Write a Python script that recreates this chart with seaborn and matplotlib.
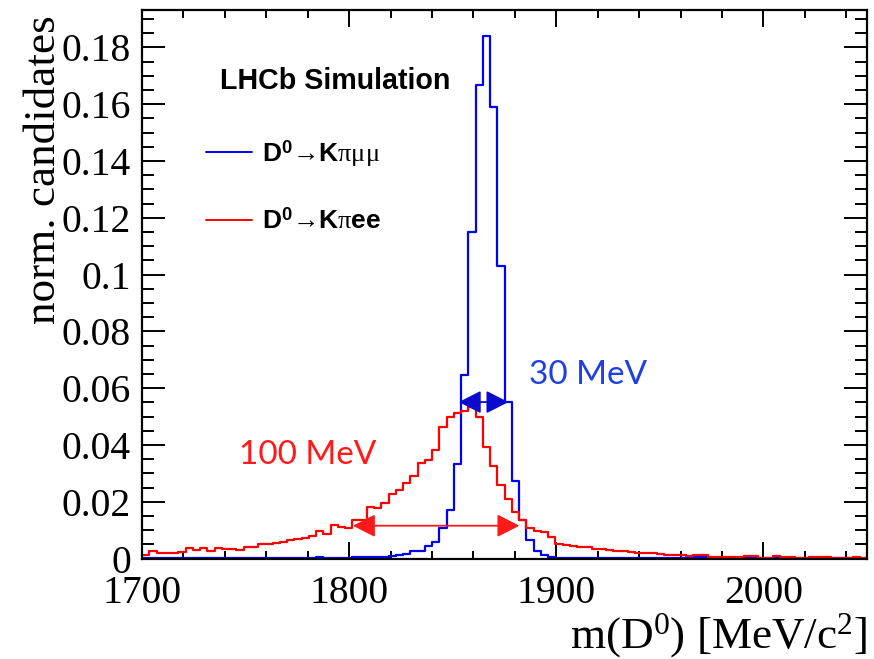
import numpy as np
import pandas as pd
import matplotlib
matplotlib.use("Agg")
import matplotlib.pyplot as plt
from matplotlib.ticker import MultipleLocator, FuncFormatter
import seaborn as sns

# ---------------- data ----------------
bin_lo = 1700.0
bin_hi = 2050.0
n_bins = 100

kpimumu = [
    0.0001, 0.0001, 0.0001, 0.0001, 0.0001, 0.0001, 0.0001, 0.0001, 0.0001, 0.0001,
    0.0001, 0.0001, 0.0001, 0.0001, 0.0001, 0.0001, 0.0001, 0.0001, 0.0001, 0.0001,
    0.0001, 0.0001, 0.0002, 0.0003, 0.0004, 0.0003, 0.0002, 0.0002, 0.0003, 0.0004,
    0.0006, 0.0007, 0.0005, 0.0006, 0.0009, 0.0012, 0.0015, 0.0028, 0.0025, 0.0045,
    0.0057, 0.0106, 0.0170, 0.0332, 0.0645, 0.1150, 0.1669, 0.1842, 0.1589, 0.1029,
    0.0553, 0.0273, 0.0134, 0.0066, 0.0026, 0.0014, 0.0007, 0.0003, 0.0002, 0.0002,
    0.0002, 0.0001, 0.0002, 0.0001, 0.0001, 0.0002, 0.0001, 0.0001, 0.0001, 0.0002,
    0.0001, 0.0001, 0.0001, 0.0001, 0.0002, 0.0003, 0.0004, 0.0004, 0.0002, 0.0001,
    0.0001, 0.0001, 0.0002, 0.0002, 0.0001, 0.0001, 0.0002, 0.0002, 0.0001, 0.0001,
    0.0001, 0.0001, 0.0001, 0.0001, 0.0002, 0.0001, 0.0001, 0.0001, 0.0001, 0.0001,
]

kpiee = [
    0.0013, 0.0025, 0.0021, 0.0019, 0.0019, 0.0023, 0.0036, 0.0030, 0.0036, 0.0027,
    0.0037, 0.0034, 0.0033, 0.0029, 0.0041, 0.0041, 0.0050, 0.0052, 0.0054, 0.0058,
    0.0066, 0.0069, 0.0072, 0.0080, 0.0097, 0.0087, 0.0119, 0.0110, 0.0107, 0.0137,
    0.0136, 0.0183, 0.0177, 0.0197, 0.0228, 0.0242, 0.0265, 0.0289, 0.0336, 0.0347,
    0.0383, 0.0463, 0.0498, 0.0511, 0.0520, 0.0535, 0.0500, 0.0393, 0.0325, 0.0260,
    0.0210, 0.0164, 0.0136, 0.0108, 0.0098, 0.0092, 0.0074, 0.0052, 0.0048, 0.0045,
    0.0042, 0.0039, 0.0035, 0.0032, 0.0030, 0.0027, 0.0025, 0.0023, 0.0021, 0.0019,
    0.0019, 0.0016, 0.0014, 0.0014, 0.0012, 0.0008, 0.0014, 0.0013, 0.0007, 0.0007,
    0.0005, 0.0005, 0.0005, 0.0008, 0.0008, 0.0002, 0.0003, 0.0008, 0.0005, 0.0005,
    0.0002, 0.0002, 0.0006, 0.0006, 0.0006, 0.0003, 0.0002, 0.0003, 0.0006, 0.0003,
]

label_mumu = r"D$^{\mathbf{0}}$→K$\mathrm{\pi\mu\mu}$"
label_ee = r"D$^{\mathbf{0}}$→K$\mathrm{\pi}$ee"

# FWHM arrows (x0, x1, y) and their labels
mumu_arrow = (1852.9, 1876.9, 0.0551)
ee_arrow = (1801.8, 1882.2, 0.01155)
mumu_width_text = "30 MeV"
ee_width_text = "100 MeV"

x_ticks = [1700, 1800, 1900, 2000]

# ---------------- plot ----------------
sns.set_theme(style="ticks")
plt.rcParams["font.family"] = ["Liberation Serif", "DejaVu Serif"]
plt.rcParams["mathtext.fontset"] = "custom"
plt.rcParams["mathtext.rm"] = "Liberation Serif"
plt.rcParams["mathtext.it"] = "Liberation Serif:italic"
plt.rcParams["mathtext.bf"] = "Liberation Sans:bold"
for key in ["text.color", "axes.labelcolor", "xtick.color", "ytick.color",
            "xtick.labelcolor", "ytick.labelcolor", "axes.edgecolor"]:
    plt.rcParams[key] = "black"

fig = plt.figure(figsize=(8.74, 6.59), dpi=100)
ax = fig.add_axes([0.1625, 0.1525, 0.8295, 0.8323])

edges = np.linspace(bin_lo, bin_hi, n_bins + 1)
centers = 0.5 * (edges[:-1] + edges[1:])

df_mumu = pd.DataFrame({"m": centers, "w": kpimumu})
df_ee = pd.DataFrame({"m": centers, "w": kpiee})

sns.histplot(data=df_mumu, x="m", weights="w", bins=list(edges), element="step", fill=False,
             color="#0000ff", linewidth=1.6, ax=ax, label=label_mumu)
sns.histplot(data=df_ee, x="m", weights="w", bins=list(edges), element="step", fill=False,
             color="#ff0000", linewidth=1.6, ax=ax, label=label_ee)

ax.set_xlim(bin_lo, bin_hi)
ax.set_ylim(0, 0.1932)

# arrows
ax.annotate("", xy=(mumu_arrow[1], mumu_arrow[2]), xytext=(mumu_arrow[0], mumu_arrow[2]),
            arrowprops=dict(arrowstyle="<|-|>,head_length=0.55,head_width=0.28",
                            color="#0a0acc", lw=1.3, shrinkA=0, shrinkB=0,
                            mutation_scale=25))
ax.annotate("", xy=(ee_arrow[1], ee_arrow[2]), xytext=(ee_arrow[0], ee_arrow[2]),
            arrowprops=dict(arrowstyle="<|-|>,head_length=0.55,head_width=0.28",
                            color="#ff1a1a", lw=1.3, shrinkA=0, shrinkB=0,
                            mutation_scale=25))

ax.text(1887, 0.0646, mumu_width_text, color="#1f3fe6", fontsize=24,
        family=["Lato", "DejaVu Sans"], ha="left", va="center")
ax.text(1747, 0.0364, ee_width_text, color="#ff1a1a", fontsize=24,
        family=["Lato", "DejaVu Sans"], ha="left", va="center")

ax.text(0.108, 0.871, "LHCb Simulation", transform=ax.transAxes, fontsize=20.6,
        fontweight="bold", family=["Liberation Sans", "DejaVu Sans"],
        ha="left", va="center", color="black")

leg = ax.legend(loc="upper left", bbox_to_anchor=(0.088, 0.767), frameon=False,
                prop=dict(family=["Liberation Sans", "DejaVu Sans"], weight="bold", size=19),
                handlelength=1.74, handletextpad=0.38, labelspacing=1.5,
                borderpad=0, borderaxespad=0)
for h in leg.get_lines():
    h.set_linewidth(1.4)
for t in leg.get_texts():
    t.set_color("black")

# axes style (ROOT-like)
for s in ax.spines.values():
    s.set_linewidth(1.6)
    s.set_color("black")
ax.set_xticks(x_ticks)
ax.xaxis.set_minor_locator(MultipleLocator(20))
ax.yaxis.set_major_locator(MultipleLocator(0.02))
ax.yaxis.set_minor_locator(MultipleLocator(0.005))
ax.yaxis.set_major_formatter(FuncFormatter(lambda v, p: "%g" % round(v, 4)))
ax.tick_params(axis="both", which="both", direction="in", top=True, right=True,
               width=1.4, color="black", labelcolor="black", labelsize=28.5)
ax.tick_params(axis="x", which="major", length=12.5, pad=12)
ax.tick_params(axis="x", which="minor", length=6)
ax.tick_params(axis="y", which="major", length=16.5, pad=8)
ax.tick_params(axis="y", which="minor", length=8.5)

ax.set_xlabel(r"m(D$^{0}$) [MeV/c$^{2}$]", fontsize=32.5, loc="right", va="top")
ax.set_ylabel("norm. candidates", fontsize=32.5, loc="top")
ax.xaxis.set_label_coords(1.0, -0.097)
ax.yaxis.set_label_coords(-0.108, 0.991)

fig.savefig("out.png", dpi=100, facecolor="white")
